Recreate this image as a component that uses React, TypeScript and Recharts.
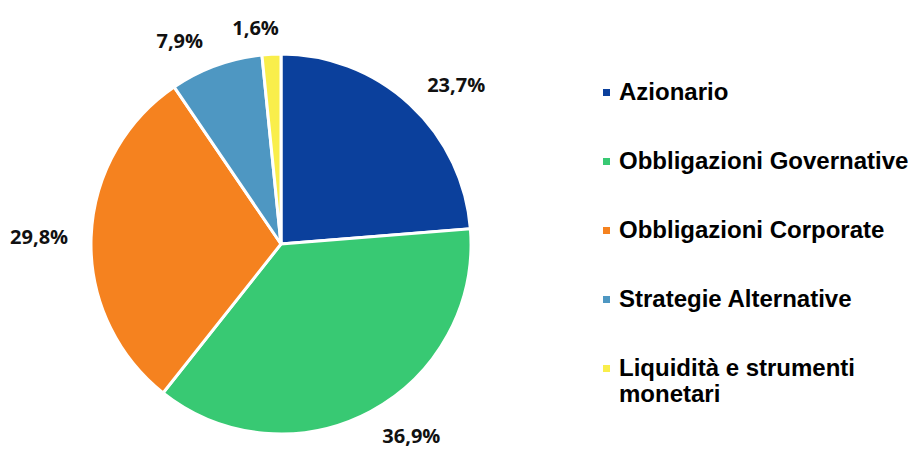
import { PieChart, Pie, Cell, Legend } from 'recharts';

const categories = [
  'Azionario',
  'Obbligazioni Governative',
  'Obbligazioni Corporate',
  'Strategie Alternative',
  'Liquidità e strumenti monetari',
];
const values = [23.7, 36.9, 29.8, 7.9, 1.6];
const colors = ['#0b409c', '#38c973', '#f5821f', '#4e97c2', '#f9ee4b'];

const data = categories.map((name, i) => ({ name, value: values[i] }));

const RAD = Math.PI / 180;

// percent labels outside the slice; pushed sideways more on the flanks, like the office chart does
const renderLabel = (props: any) => {
  const { cx, cy, midAngle, outerRadius, value } = props;
  const c = Math.cos(-midAngle * RAD);
  const s = Math.sin(-midAngle * RAD);
  const x = cx + (outerRadius - 24) * c + 76 * Math.sign(c) * Math.sqrt(Math.abs(c));
  const y = cy + (outerRadius + 27) * s;
  return (
    <text
      x={x}
      y={y}
      textAnchor="middle"
      dominantBaseline="central"
      fill="#111"
      style={{ fontFamily: 'Open Sans', fontWeight: 700, fontSize: 20 }}
    >
      {value.toFixed(1).replace('.', ',') + '%'}
    </text>
  );
};

// legend keeps the data order (recharts would sort it)
const LegendList = () => (
  <div style={{ fontFamily: 'Liberation Sans', fontWeight: 700, fontSize: 24, lineHeight: '26px', color: '#000' }}>
    {data.map((d, i) => (
      <div key={d.name} style={{ display: 'flex', alignItems: 'flex-start', marginBottom: 43 }}>
        <span
          style={{
            display: 'inline-block',
            width: 7,
            height: 7,
            marginTop: 10,
            marginLeft: 3,
            marginRight: 9,
            background: colors[i],
            flexShrink: 0,
          }}
        />
        <span style={{ display: 'inline-block', maxWidth: 290 }}>{d.name}</span>
      </div>
    ))}
  </div>
);

export default function App() {
  return (
    <div style={{ position: 'absolute', left: 0, top: 0, width: 909, height: 449, background: '#fff', overflow: 'hidden' }}>
      <PieChart width={909} height={449} margin={{ top: 0, right: 0, bottom: 0, left: 0 }}>
        <Pie
          data={data}
          dataKey="value"
          nameKey="name"
          cx={281}
          cy={244}
          outerRadius={190}
          startAngle={90}
          endAngle={-270}
          stroke="#ffffff"
          strokeWidth={3}
          label={renderLabel}
          labelLine={false}
          isAnimationActive={false}
        >
          {data.map((d, i) => (
            <Cell key={d.name} fill={colors[i]} />
          ))}
        </Pie>
        <Legend
          layout="vertical"
          align="right"
          verticalAlign="middle"
          content={<LegendList />}
          wrapperStyle={{ left: 600, top: 79, width: 309, right: 'auto', bottom: 'auto' }}
        />
      </PieChart>
    </div>
  );
}
